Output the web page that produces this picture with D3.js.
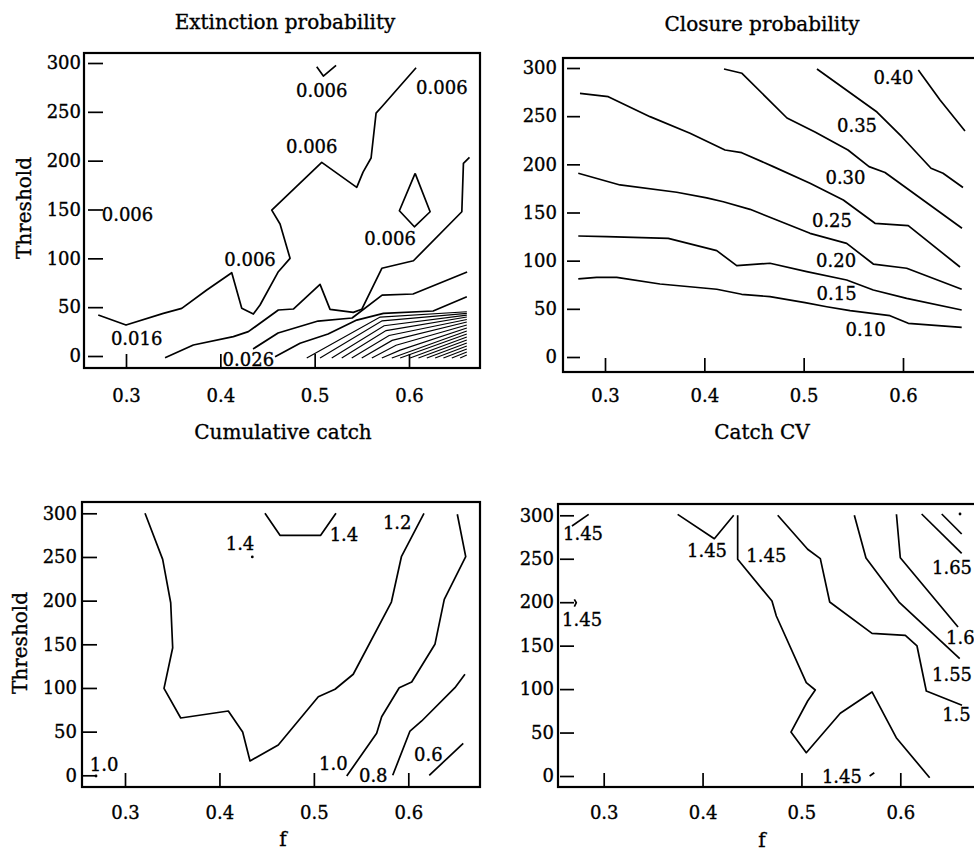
<!DOCTYPE html>
<html>
<head>
<meta charset="utf-8">
<script src="https://cdn.jsdelivr.net/npm/d3@7"></script>
<style>
  body { margin: 0; background: #fff; }
  svg text { font-family: "DejaVu Serif", serif; fill: #000; stroke: #000; stroke-width: 0.35px; }
</style>
</head>
<body>
<svg id="plot" width="974" height="852"></svg>
<script>
// tick values shared by all four panels
var xTicks = [0.3, 0.4, 0.5, 0.6];
var yTicks = [0, 50, 100, 150, 200, 250, 300];

// Extinction probability, contour lines as [f, threshold] points
var extinctionLines = [
  [[0.2706,42.0],[0.3,31.7],[0.3396,43.7],[0.3591,48.8],[0.3856,67.6],[0.4121,85.3],[0.4227,48.8],[0.435,43.0],[0.4421,52.2],[0.4615,86.3],[0.4739,100.0],[0.4633,135.1],[0.4545,149.4],[0.5075,198.3],[0.5446,172.7],[0.5513,188.3],[0.5598,202.7],[0.5651,248.7],[0.5712,255.2],[0.6075,295.1]],
  [[0.5022,296.1],[0.5092,286.6],[0.5227,297.5]],
  [[0.6065,187.0],[0.5898,148.7],[0.6057,132.3],[0.6224,147.7],[0.6065,187.0]],
  [[0.3414,-1.7],[0.3714,11.3],[0.4138,19.8],[0.4297,24.9],[0.4615,47.1],[0.4774,48.1],[0.5057,73.4],[0.5163,47.8],[0.541,44.7],[0.5499,47.8],[0.5712,89.8],[0.6047,97.5],[0.656,147.7],[0.6577,197.2],[0.6641,203.4]],
  [[0.4347,7.2],[0.4612,23.5],[0.5036,35.8],[0.5397,38.9],[0.5715,62.4],[0.6043,63.5],[0.6616,86.0]],
  [[0.458,-0.7],[0.4845,13.0],[0.5142,22.5],[0.5446,36.8],[0.5729,43.7],[0.6256,46.1],[0.6613,60.7]]
];
// the dense fan of levels in the lower right corner
var extinctionBundle = [
  [[0.4916,-2],[0.5694,39.9],[0.6613,45.3]],
  [[0.5057,-2],[0.5715,36.0],[0.6613,43.7]],
  [[0.5181,-2],[0.5736,31.0],[0.6613,41.9]],
  [[0.5287,-2],[0.5757,26.0],[0.6613,39.9]],
  [[0.5393,-2],[0.5789,21.0],[0.6613,37.4]],
  [[0.5499,-2],[0.5821,16.0],[0.6613,34.8]],
  [[0.5606,-2],[0.5863,11.0],[0.6613,31.7]],
  [[0.5712,-2],[0.5906,6.0],[0.6613,28.7]],
  [[0.5818,-2],[0.6613,25.6]],
  [[0.5906,-2],[0.6613,22.5]],
  [[0.6012,-2],[0.6613,19.4]],
  [[0.61,-2],[0.6613,16.4]],
  [[0.6189,-2],[0.6613,13.3]],
  [[0.6277,-2],[0.6613,10.2]],
  [[0.6365,-2],[0.6613,7.2]],
  [[0.6454,-2],[0.6613,4.1]],
  [[0.6542,-2],[0.6613,1.0]]
];
var extinctionLabels = [
  ['0.006',0.5075,271.5],['0.006',0.6348,275.0],['0.006',0.4969,214.2],['0.006',0.3016,145.3],
  ['0.006',0.4315,99.0],['0.006',0.58,120.5],['0.016',0.3113,18.1],['0.026',0.4297,-4.1]
];

// Closure probability, levels 0.10 .. 0.40
var closureLines = [
  [[0.2731,81.0],[0.2916,82.7],[0.3118,82.7],[0.3554,75.8],[0.4125,70.3],[0.4376,65.1],[0.4661,62.6],[0.5014,56.4],[0.5232,52.2],[0.5467,48.1],[0.5869,42.9],[0.6053,35.0],[0.6591,30.8]],
  [[0.2731,125.6],[0.3017,124.9],[0.3637,123.2],[0.4125,110.4],[0.4326,94.8],[0.4661,97.3],[0.5031,88.6],[0.5433,79.9],[0.5701,69.6],[0.6037,60.9],[0.6591,48.8]],
  [[0.2731,190.7],[0.3151,178.6],[0.3722,171.0],[0.4024,165.1],[0.4191,161.2],[0.446,153.3],[0.4729,142.2],[0.5064,128.4],[0.5433,118.0],[0.5701,96.5],[0.6037,92.1],[0.6591,70.3]],
  [[0.2748,273.7],[0.3033,270.2],[0.3453,249.5],[0.3856,232.2],[0.4208,214.9],[0.4376,212.1],[0.4694,197.6],[0.5064,180.3],[0.5399,163.0],[0.5718,138.8],[0.6053,136.3],[0.6574,93.4]],
  [[0.4198,299.0],[0.4379,294.5],[0.4832,248.1],[0.5114,233.6],[0.5446,214.9],[0.5658,197.6],[0.5819,191.5],[0.6594,133.6]],
  [[0.5134,299.0],[0.5738,254.3],[0.599,228.4],[0.6282,195.9],[0.6403,190.7],[0.6604,176.0]],
  [[0.6154,297.9],[0.6373,266.8],[0.6624,234.6]]
];
var closureLabels = [
  ['0.40',0.5904,289.9],['0.35',0.5537,240.8],['0.30',0.5421,186.3],['0.25',0.5285,141.7],
  ['0.20',0.5326,99.7],['0.15',0.5331,65.4],['0.10',0.5623,28.5]
];

// Cumulative catch against f
var catchLines = [
  [[0.3212,300.0],[0.3399,247.3],[0.3484,197.6],[0.3505,146.1],[0.3413,99.6],[0.359,65.6],[0.4094,73.6],[0.4246,49.6],[0.4324,16.4],[0.4623,34.7],[0.5047,90.0],[0.5224,98.5],[0.5417,115.7],[0.5821,198.4],[0.5927,250.3],[0.6166,300.0]],
  [[0.4482,300],[0.4641,274.8],[0.5072,274.8],[0.5234,300]],
  [[0.5348,-0.8],[0.5665,48.1],[0.5718,67.1],[0.5904,100.3],[0.6036,106.8],[0.6282,150.0],[0.6381,201.5],[0.6608,250.3],[0.6519,298.9]],
  [[0.5835,0],[0.6018,50.7],[0.6142,62.2],[0.6494,100.3],[0.66,115.7]],
  [[0.6222,0],[0.6582,36.6]]
];
var catchDots = [[0.4348,250],[0.2693,-0.8]];
var catchLabels = [
  ['1.4',0.4218,265.7],['1.4',0.5319,276.0],['1.2',0.5883,289.3],['1.0',0.2778,12.6],
  ['1.0',0.5206,13.7],['0.8',0.5629,0],['0.6',0.6212,24.0]
];

// Catch CV against f
var cvLines = [
  [[0.2679,287.7],[0.2848,301.1]],
  [[0.3748,301.1],[0.4119,273.1],[0.4315,300.0]],
  [[0.4355,300.0],[0.4355,249.4],[0.4702,201.4],[0.4746,184.1],[0.5049,107.4],[0.514,99.0],[0.5063,86.3],[0.4894,50.6],[0.5049,26.8],[0.5393,72.2],[0.5714,96.7],[0.5959,44.1],[0.6297,-2.0]],
  [[0.476,300.0],[0.5063,260.9],[0.5191,250.1],[0.5286,200.2],[0.5714,164.2],[0.6051,161.9],[0.6169,149.6],[0.6263,97.8],[0.6624,81.4]],
  [[0.5535,300.0],[0.5653,250.9],[0.5987,200.2],[0.6601,135.2]],
  [[0.5961,301.2],[0.6,251.2],[0.6584,171.4]],
  [[0.6216,301.5],[0.6621,256.3]],
  [[0.6419,301.5],[0.6621,278.5]],
  [[0.2703,203.3],[0.2723,199.4],[0.2703,194.8]],
  [[0.569,0],[0.5737,3.8]]
];
var cvDots = [[0.6604,301.5]];
var cvLabels = [
  ['1.45',0.2791,279.3],['1.45',0.4045,258.9],['1.45',0.4645,253.2],['1.45',0.2781,180.3],
  ['1.45',0.541,-0.8],['1.65',0.6523,239.7],['1.6',0.6607,159.1],['1.55',0.6523,117.0],['1.5',0.6568,71.0]
];

var svg = d3.select('#plot');
var fontSize = 18;
var titleSize = 20;

// page layout of each panel (frame box, where the ticks fall, where the titles sit)
var panels = [
  { box: [84, 53, 480, 368], xr: [126, 409], yr: [356, 63], yAxisX: 88, yTick: 15, yPad: 7, xAxisY: 367, xTick: 13, xPad: 22,
    title: ['Extinction probability', 285, 29], xTitle: ['Cumulative catch', 283, 439], yTitle: ['Threshold', 31, 208],
    lines: extinctionLines, thin: extinctionBundle, dots: [], labels: extinctionLabels },
  { box: [563, 58, 985, 372], xr: [605, 903], yr: [357, 68], yAxisX: 567, yTick: 13, yPad: 10, xAxisY: 371, xTick: 13, xPad: 18,
    title: ['Closure probability', 762, 31], xTitle: ['Catch CV', 762, 439], yTitle: null,
    lines: closureLines, thin: [], dots: [], labels: closureLabels },
  { box: [82, 502, 480, 787], xr: [125, 408.3], yr: [775.3, 513.3], yAxisX: 83, yTick: 14, yPad: 6, xAxisY: 786, xTick: 13, xPad: 20,
    title: null, xTitle: ['f', 283, 846], yTitle: ['Threshold', 27, 643],
    lines: catchLines, thin: [], dots: catchDots, labels: catchLabels },
  { box: [558, 504, 985, 787], xr: [603.7, 900.3], yr: [776, 515.3], yAxisX: 560, yTick: 14, yPad: 6, xAxisY: 786, xTick: 13, xPad: 20,
    title: null, xTitle: ['f', 762, 847], yTitle: null,
    lines: cvLines, thin: [], dots: cvDots, labels: cvLabels }
];

panels.forEach(function (p, i) {
  var x = d3.scaleLinear().domain([0.3, 0.6]).range(p.xr);
  var y = d3.scaleLinear().domain([0, 300]).range(p.yr);
  var g = svg.append('g');

  // clip contours to the frame
  g.append('clipPath').attr('id', 'clip' + i)
    .append('rect')
    .attr('x', p.box[0]).attr('y', p.box[1])
    .attr('width', p.box[2] - p.box[0]).attr('height', p.box[3] - p.box[1]);

  g.append('rect')
    .attr('x', p.box[0]).attr('y', p.box[1])
    .attr('width', p.box[2] - p.box[0]).attr('height', p.box[3] - p.box[1])
    .attr('fill', 'none').attr('stroke', '#000').attr('stroke-width', 2.2);

  // axes with inward ticks
  var xAxis = d3.axisBottom(x).tickValues(xTicks).tickFormat(d3.format('.1f'))
    .tickSizeInner(-p.xTick).tickSizeOuter(0).tickPadding(p.xPad);
  var yAxis = d3.axisLeft(y).tickValues(yTicks).tickFormat(d3.format('d'))
    .tickSizeInner(-p.yTick).tickSizeOuter(0).tickPadding(p.yPad);

  var gx = g.append('g').attr('transform', 'translate(0,' + p.xAxisY + ')').call(xAxis);
  var gy = g.append('g').attr('transform', 'translate(' + p.yAxisX + ',0)').call(yAxis);
  [gx, gy].forEach(function (a) {
    a.select('.domain').remove();
    a.attr('font-family', null).attr('font-size', null);
    a.selectAll('line').attr('stroke', '#000').attr('stroke-width', 1.7);
    a.selectAll('text').style('font-size', fontSize + 'px').attr('fill', '#000');
  });

  var line = d3.line().x(function (d) { return x(d[0]); }).y(function (d) { return y(d[1]); });
  var inner = g.append('g').attr('clip-path', 'url(#clip' + i + ')');

  inner.selectAll('path.contour').data(p.lines).enter().append('path')
    .attr('class', 'contour')
    .attr('d', line)
    .attr('fill', 'none').attr('stroke', '#000').attr('stroke-width', 1.7)
    .attr('stroke-linejoin', 'round');

  inner.selectAll('path.thin').data(p.thin).enter().append('path')
    .attr('class', 'thin')
    .attr('d', line)
    .attr('fill', 'none').attr('stroke', '#000').attr('stroke-width', 1.2);

  inner.selectAll('circle').data(p.dots).enter().append('circle')
    .attr('cx', function (d) { return x(d[0]); })
    .attr('cy', function (d) { return y(d[1]); })
    .attr('r', 1.4).attr('fill', '#000');

  g.selectAll('text.clab').data(p.labels).enter().append('text')
    .attr('class', 'clab')
    .attr('x', function (d) { return x(d[1]); })
    .attr('y', function (d) { return y(d[2]); })
    .attr('dy', '0.36em')
    .attr('text-anchor', 'middle')
    .style('font-size', fontSize + 'px')
    .text(function (d) { return d[0]; });

  if (p.title) {
    svg.append('text').attr('x', p.title[1]).attr('y', p.title[2])
      .attr('text-anchor', 'middle').style('font-size', titleSize + 'px').text(p.title[0]);
  }
  svg.append('text').attr('x', p.xTitle[1]).attr('y', p.xTitle[2])
    .attr('text-anchor', 'middle').style('font-size', titleSize + 'px').text(p.xTitle[0]);
  if (p.yTitle) {
    svg.append('text')
      .attr('transform', 'translate(' + p.yTitle[1] + ',' + p.yTitle[2] + ') rotate(-90)')
      .attr('text-anchor', 'middle').style('font-size', titleSize + 'px').text(p.yTitle[0]);
  }
});
</script>
</body>
</html>
